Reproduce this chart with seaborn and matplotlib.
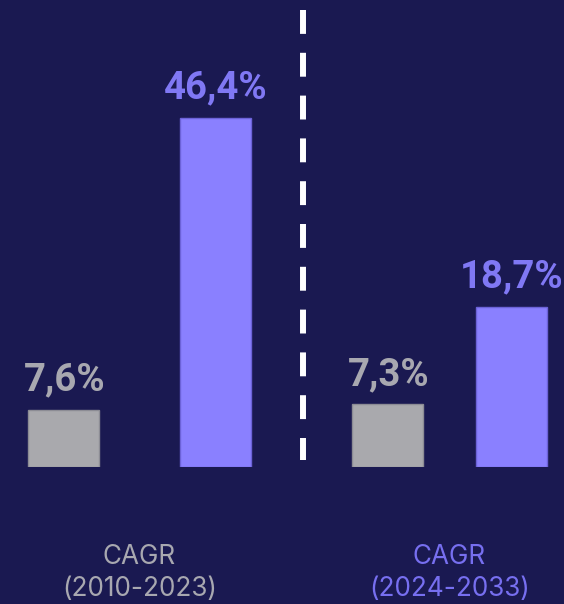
import numpy as np
import pandas as pd
import matplotlib
matplotlib.use("Agg")
import matplotlib.pyplot as plt
import matplotlib.transforms as mtransforms
from matplotlib.lines import Line2D
import seaborn as sns

# data
periods = ["CAGR\n(2010-2023)", "CAGR\n(2024-2033)"]
series = ["Total", "Segment"]
total_cagr = [7.6, 7.3]
segment_cagr = [46.4, 18.7]

BG = "#1a1951"
GRAY = "#a9a9ad"
PURPLE = "#8a80ff"
GRAY_TXT = "#a8a8b0"
PURPLE_TXT = "#8078f4"
PURPLE_LBL = "#776ff0"

sns.set_theme(style="white")
plt.rcParams["font.family"] = ["Roboto", "DejaVu Sans"]

W, H = 564, 604
fig = plt.figure(figsize=(W / 100, H / 100), dpi=100, facecolor=BG)

base = 467  # px from top where bars sit
# panel layout in pixels: (left, right, first bar centre, bar spacing, y max)
panels = [
    (0, 303, 63.5, 152, 62.0),
    (303, 564, 387.5, 124, 54.5),
]
bar_w = 71

for i, (x0, x1, c0, step, ymax) in enumerate(panels):
    ax = fig.add_axes([x0 / W, (H - base) / H, (x1 - x0) / W, base / H])
    ax.set_facecolor(BG)
    df = pd.DataFrame({"series": series, "value": [total_cagr[i], segment_cagr[i]]})
    sns.barplot(
        data=df, x="series", y="value", hue="series",
        palette=[GRAY, PURPLE], width=bar_w / step, ax=ax,
        legend=False, saturation=1,
    )
    for patch, ec in zip(ax.patches, ["#8c8c94", "#6c62d8"]):
        patch.set_edgecolor(ec)
        patch.set_linewidth(1.0)
    ax.set_xlim(-(c0 - x0) / step, (x1 - c0) / step)
    ax.set_ylim(0, ymax)
    ax.axis("off")

    for j, (v, col) in enumerate(zip(df["value"], [GRAY_TXT, PURPLE_TXT])):
        ax.annotate(
            f"{v:.1f}%".replace(".", ","), (j, v),
            xytext=(1 if j == 0 else 0, 8), textcoords="offset points",
            ha="center", va="bottom", fontsize=27.5, fontweight="bold",
            color=col,
        )

    trans = mtransforms.blended_transform_factory(ax.transData, ax.transAxes)
    ax.text(
        0.5, -(573 - base) / base, periods[i], transform=trans,
        ha="center", va="center", fontsize=18.8, linespacing=1.3,
        color=[GRAY_TXT, PURPLE_LBL][i], family=["Inter", "DejaVu Sans"],
    )

# dashed divider
fig.add_artist(Line2D(
    [303 / W, 303 / W], [1 - 10 / H, 1 - 460 / H], transform=fig.transFigure,
    color="white", lw=4.3, linestyle=(0, (24 / 6, 19 / 6)), solid_capstyle="butt",
    dash_capstyle="butt",
))

fig.savefig("out.png", dpi=100, facecolor=BG)
plt.close(fig)
